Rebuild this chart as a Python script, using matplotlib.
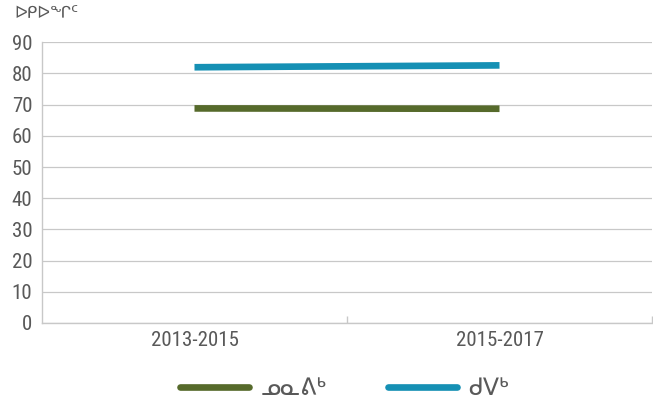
import matplotlib.pyplot as plt
from matplotlib import font_manager
from matplotlib.ticker import FixedLocator

periods = ["2013-2015", "2015-2017"]
nunavik = [68.8, 68.7]
quebec = [82.0, 82.6]
series_names = ["ᓄᓇᕕᒃ", "ᑯᐯᒃ"]
y_label = "ᐅᑭᐅᖏᑦ"
y_ticks = list(range(0, 100, 10))

GREEN = "#566a2b"
BLUE = "#1590b4"
GRID = "#c8c8c8"
TEXT = "#595959"


def narrow_font():
    """Look for a condensed sans font file, fall back to DejaVu Sans."""
    found = {}
    for f in font_manager.fontManager.ttflist:
        name = f.fname.lower()
        if ("narrow" in name or "condensed" in name) and "bold" not in name \
                and "italic" not in name and "oblique" not in name:
            found[f.fname] = f.name
    for key in ["liberationsansnarrow-regular", "robotocondensed-regular",
                "dejavusanscondensed.ttf"]:
        for path in found:
            if key in path.lower():
                return font_manager.FontProperties(fname=path)
    if found:
        return font_manager.FontProperties(fname=sorted(found)[0])
    return font_manager.FontProperties(family="DejaVu Sans")


num_font = narrow_font()

fig = plt.figure(figsize=(6.53, 4.01), dpi=100)
ax = fig.add_axes([42 / 653, 1 - 323 / 401, 610 / 653, (323 - 42.3) / 401])

x = list(range(len(periods)))
ax.plot(x, nunavik, color=GREEN, lw=4.8, solid_capstyle="butt", label=series_names[0])
ax.plot(x, quebec, color=BLUE, lw=4.8, solid_capstyle="butt", label=series_names[1])

ax.set_xlim(-0.5, len(periods) - 0.5)
ax.set_ylim(0, 90)
ax.set_yticks(y_ticks)
ax.set_xticks(x)
ax.set_xticklabels(periods)
ax.xaxis.set_minor_locator(FixedLocator([0.5, 1.5]))

ax.grid(axis="y", color=GRID, lw=0.9)
ax.set_axisbelow(True)
for side in ["top", "right"]:
    ax.spines[side].set_visible(False)
for side in ["left", "bottom"]:
    ax.spines[side].set_color(GRID)
    ax.spines[side].set_linewidth(1.0)

ax.tick_params(axis="y", length=0, pad=7, labelcolor=TEXT)
ax.tick_params(axis="x", which="major", length=0, pad=6, labelcolor=TEXT)
ax.tick_params(axis="x", which="minor", direction="in", length=5, color=GRID, width=1.0)
for lab in ax.get_xticklabels() + ax.get_yticklabels():
    lab.set_fontproperties(num_font)
    lab.set_fontsize(15)

fig.text(14 / 653, 1 - 13 / 401, y_label, fontsize=12, color=TEXT,
         family=["DejaVu Sans"], ha="left", va="center")

leg = fig.legend(loc="center", bbox_to_anchor=(0.528, 1 - 388 / 401), ncol=2,
                 frameon=False, handlelength=2.9, handletextpad=0.5,
                 columnspacing=2.6, prop={"family": ["DejaVu Sans"], "size": 17})
for t in leg.get_texts():
    t.set_color(TEXT)
for h in leg.get_lines():
    h.set_solid_capstyle("round")
    h.set_linewidth(4.8)

fig.savefig("out.png", dpi=100)
